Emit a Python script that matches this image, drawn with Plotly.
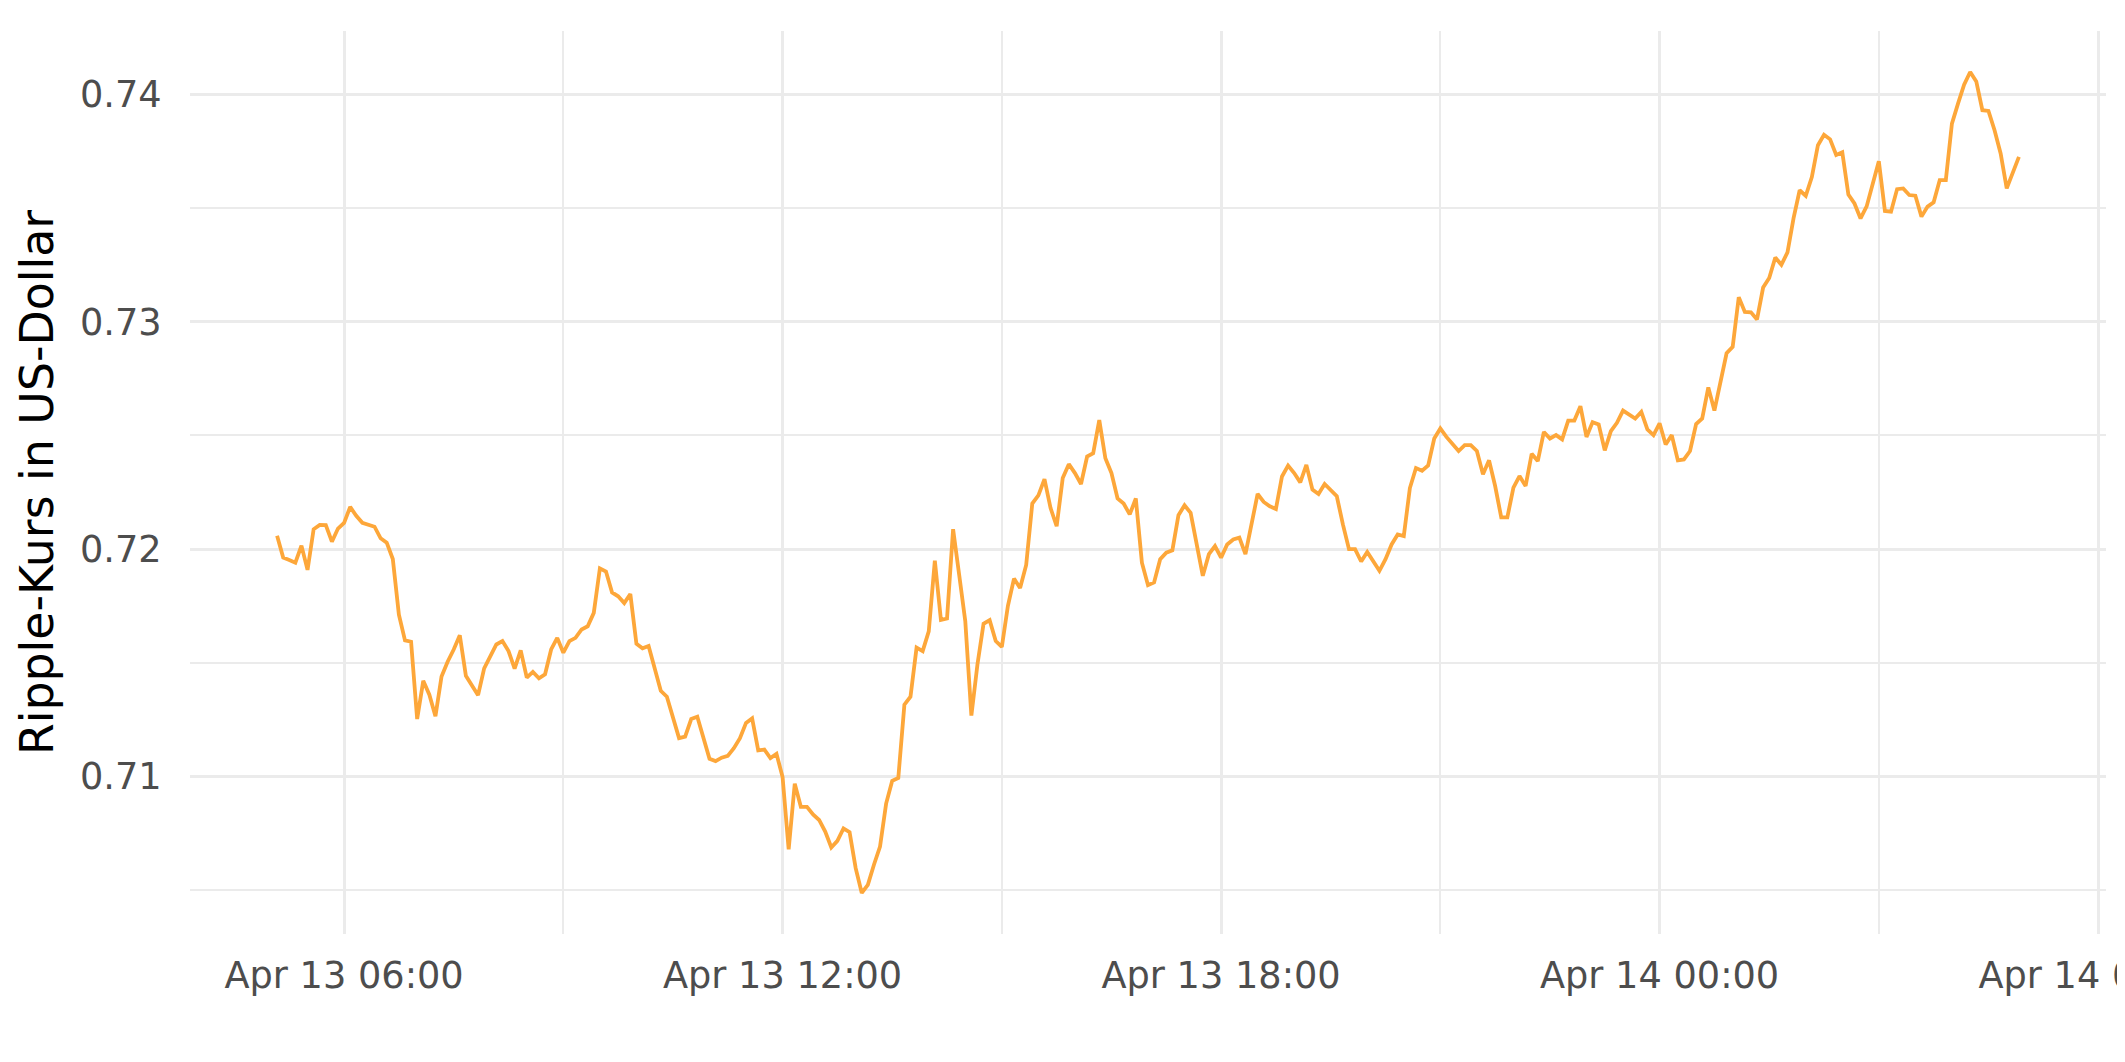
import pandas as pd
import plotly.graph_objects as go

# 5-minute XRP/USD closing prices, starting Apr 13 05:05
start_time = "2018-04-13 05:05"
interval = "5min"

price_usd = [
    0.72058, 0.71962, 0.71952, 0.71940, 0.72015, 0.71908, 0.72087, 0.72106, 0.72105, 0.72032,
    0.72090, 0.72115, 0.72185, 0.72146, 0.72115, 0.72106, 0.72098, 0.72047, 0.72028, 0.71956,
    0.71711, 0.71598, 0.71592, 0.71252, 0.71420, 0.71359, 0.71264, 0.71439, 0.71504, 0.71558,
    0.71621, 0.71442, 0.71398, 0.71357, 0.71475, 0.71526, 0.71580, 0.71595, 0.71551, 0.71474,
    0.71554, 0.71434, 0.71459, 0.71431, 0.71449, 0.71558, 0.71609, 0.71544, 0.71595, 0.71609,
    0.71646, 0.71660, 0.71719, 0.71915, 0.71901, 0.71809, 0.71792, 0.71762, 0.71802, 0.71583,
    0.71563, 0.71573, 0.71478, 0.71376, 0.71350, 0.71262, 0.71168, 0.71175, 0.71252, 0.71262,
    0.71172, 0.71077, 0.71067, 0.71082, 0.71090, 0.71124, 0.71168, 0.71235, 0.71255, 0.71114,
    0.71118, 0.71080, 0.71099, 0.70997, 0.70679, 0.70968, 0.70866, 0.70866, 0.70832, 0.70808,
    0.70757, 0.70687, 0.70716, 0.70771, 0.70754, 0.70596, 0.70487, 0.70523, 0.70611, 0.70691,
    0.70880, 0.70980, 0.70993, 0.71315, 0.71350, 0.71566, 0.71551, 0.71638, 0.71949, 0.71688,
    0.71694, 0.72087, 0.71886, 0.71682, 0.71267, 0.71493, 0.71671, 0.71687, 0.71595, 0.71569,
    0.71750, 0.71870, 0.71828, 0.71930, 0.72200, 0.72236, 0.72307, 0.72180, 0.72100, 0.72312,
    0.72373, 0.72334, 0.72286, 0.72407, 0.72421, 0.72567, 0.72399, 0.72334, 0.72222, 0.72200,
    0.72152, 0.72222, 0.71940, 0.71841, 0.71853, 0.71955, 0.71984, 0.71994, 0.72149, 0.72192,
    0.72159, 0.72020, 0.71882, 0.71977, 0.72013, 0.71962, 0.72020, 0.72042, 0.72050, 0.71977,
    0.72101, 0.72242, 0.72207, 0.72188, 0.72176, 0.72319, 0.72367, 0.72334, 0.72293, 0.72370,
    0.72261, 0.72242, 0.72286, 0.72261, 0.72232, 0.72108, 0.71999, 0.71999, 0.71945, 0.71987,
    0.71945, 0.71904, 0.71955, 0.72020, 0.72064, 0.72057, 0.72268, 0.72356, 0.72344, 0.72367,
    0.72486, 0.72530, 0.72493, 0.72460, 0.72431, 0.72457, 0.72457, 0.72431, 0.72329, 0.72390,
    0.72277, 0.72139, 0.72139, 0.72270, 0.72321, 0.72277, 0.72419, 0.72387, 0.72515, 0.72486,
    0.72501, 0.72482, 0.72565, 0.72565, 0.72628, 0.72493, 0.72558, 0.72548, 0.72434, 0.72518,
    0.72555, 0.72609, 0.72591, 0.72574, 0.72603, 0.72526, 0.72501, 0.72553, 0.72460, 0.72501,
    0.72390, 0.72394, 0.72431, 0.72550, 0.72574, 0.72711, 0.72609, 0.72734, 0.72861, 0.72889,
    0.73108, 0.73043, 0.73041, 0.73010, 0.73150, 0.73192, 0.73282, 0.73250, 0.73305, 0.73455,
    0.73578, 0.73553, 0.73636, 0.73776, 0.73822, 0.73802, 0.73733, 0.73745, 0.73559, 0.73520,
    0.73454, 0.73507, 0.73607, 0.73706, 0.73487, 0.73484, 0.73583, 0.73586, 0.73557, 0.73554,
    0.73462, 0.73506, 0.73525, 0.73623, 0.73623, 0.73871, 0.73959, 0.74042, 0.74098, 0.74057,
    0.73930, 0.73927, 0.73842, 0.73740, 0.73586, 0.73652, 0.73725,
]

y_title = "Ripple-Kurs in US-Dollar"
x_tick_format = "%b %d %H:%M"

times = pd.date_range(start=start_time, periods=len(price_usd), freq=interval)

# ggplot-like 5% expansion of the data range
span = times[-1] - times[0]
x_range = [times[0] - 0.05 * span, times[-1] + 0.05 * span]
y_lo, y_hi = min(price_usd), max(price_usd)
y_pad = 0.05 * (y_hi - y_lo)
y_range = [y_lo - y_pad, y_hi + y_pad]

GRID = "#EBEBEB"
TICK_FONT = dict(family="DejaVu Sans", size=36.7, color="#4D4D4D")

fig = go.Figure(
    go.Scatter(
        x=times,
        y=price_usd,
        mode="lines",
        line=dict(color="#FDA73A", width=3.8),
        showlegend=False,
    )
)

six_h = 6 * 3600 * 1000
three_h = 3 * 3600 * 1000

fig.update_layout(
    width=2125,
    height=1062,
    margin=dict(l=182, r=27, t=23, b=136),
    paper_bgcolor="white",
    plot_bgcolor="white",
    font=dict(family="DejaVu Sans"),
    xaxis=dict(
        type="date",
        range=x_range,
        tick0="2018-04-13 00:00",
        dtick=six_h,
        tickformat=x_tick_format,
        showgrid=True,
        gridcolor=GRID,
        gridwidth=3.2,
        minor=dict(dtick=three_h, tick0="2018-04-13 00:00", showgrid=True,
                   gridcolor=GRID, gridwidth=1.6),
        zeroline=False,
        showline=False,
        ticks="outside",
        ticklen=9,
        tickcolor="rgba(0,0,0,0)",
        tickfont=TICK_FONT,
        ticklabeloverflow="allow",
        automargin=False,
    ),
    yaxis=dict(
        range=y_range,
        tick0=0,
        dtick=0.01,
        tickformat=".2f",
        showgrid=True,
        gridcolor=GRID,
        gridwidth=3.2,
        minor=dict(dtick=0.005, tick0=0, showgrid=True, gridcolor=GRID, gridwidth=1.6),
        zeroline=False,
        showline=False,
        ticks="outside",
        ticklen=20,
        tickcolor="rgba(0,0,0,0)",
        tickfont=TICK_FONT,
        title=dict(text=y_title, font=dict(family="DejaVu Sans", size=45.8, color="black"),
                   standoff=11),
        automargin=False,
    ),
)

fig.write_html("out.html")
